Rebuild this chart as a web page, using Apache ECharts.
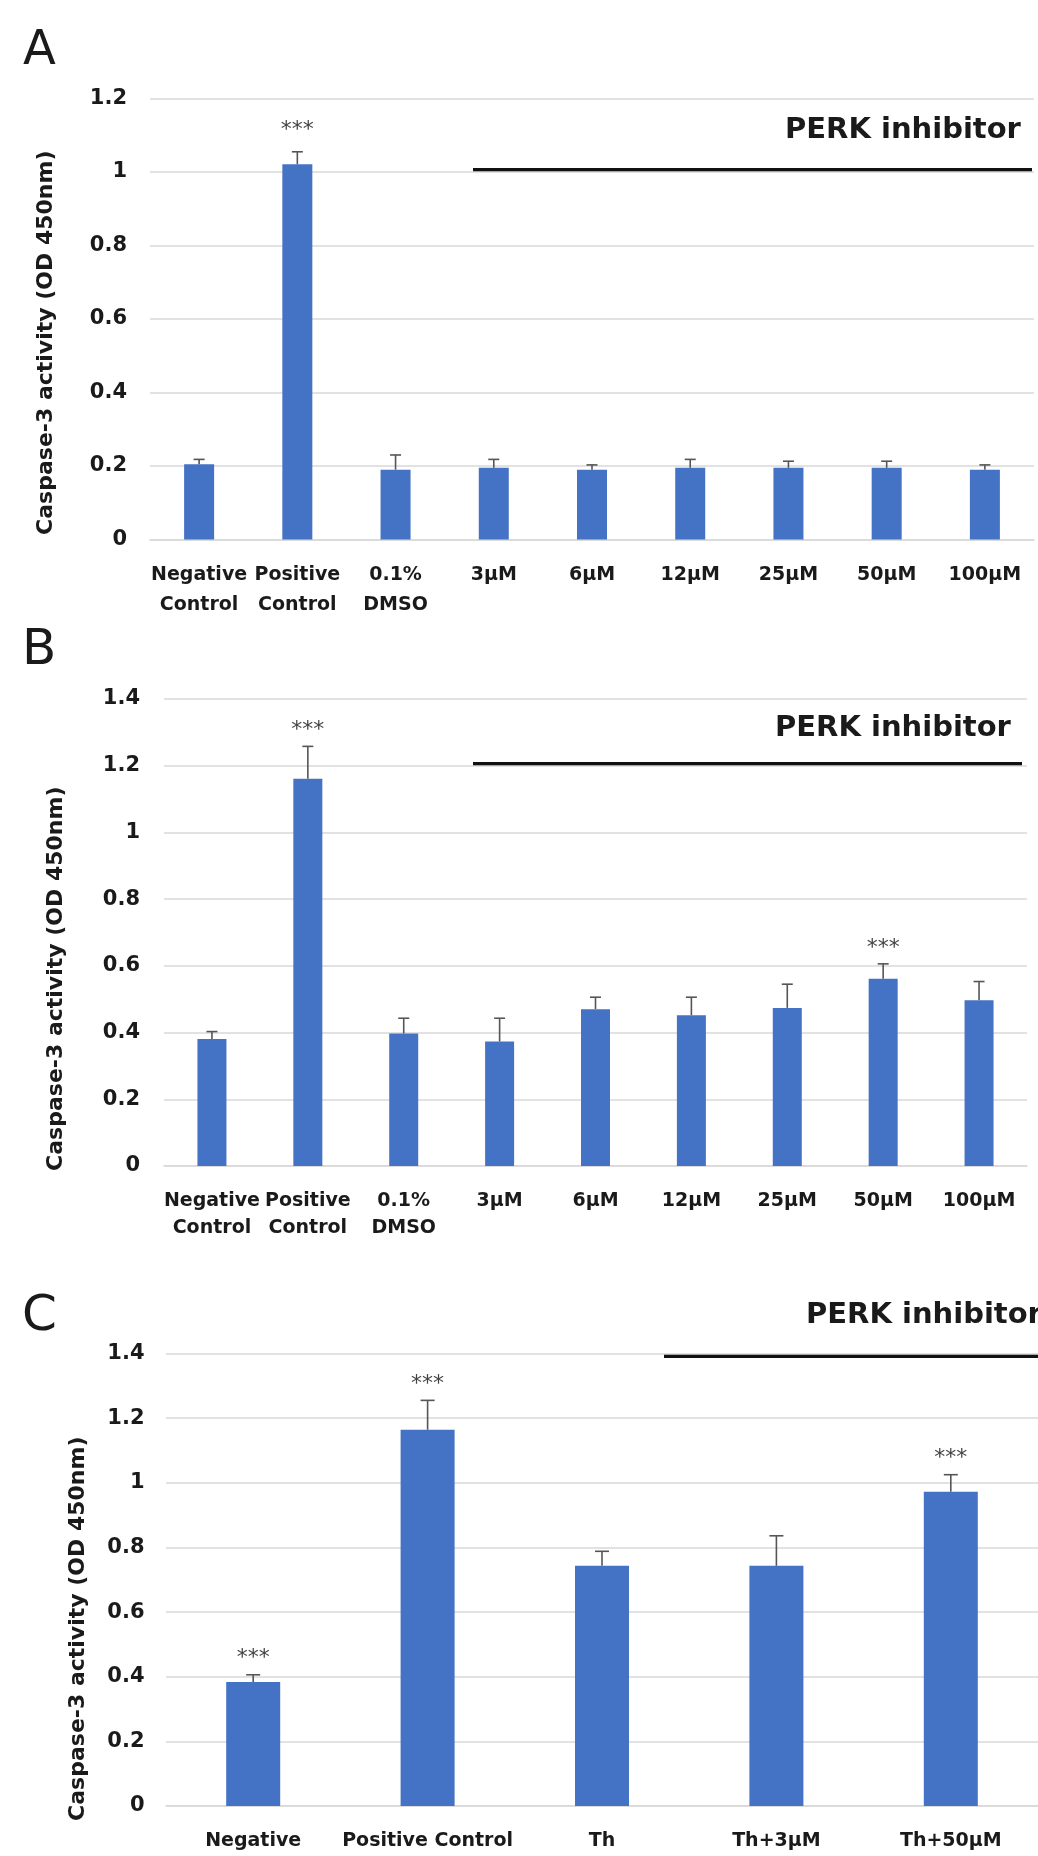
<!DOCTYPE html>
<html><head><meta charset="utf-8">
<script src="https://cdn.jsdelivr.net/npm/echarts@6/dist/echarts.min.js"></script>
<style>html,body{margin:0;padding:0;background:#fff}#c{width:1038px;height:1856px}</style>
</head><body><div id="c"></div>
<script>
// ---------- data ----------
const catsA = ['Negative\nControl', 'Positive\nControl', '0.1%\nDMSO', '3μM', '6μM', '12μM', '25μM', '50μM', '100μM'];
const valsA = [0.205, 1.021, 0.19, 0.195, 0.19, 0.195, 0.195, 0.195, 0.19];
const errA  = [0.013, 0.034, 0.04, 0.023, 0.013, 0.023, 0.018, 0.018, 0.013];
const sigA  = [0, 1, 0, 0, 0, 0, 0, 0, 0];

const catsB = ['Negative\nControl', 'Positive\nControl', '0.1%\nDMSO', '3μM', '6μM', '12μM', '25μM', '50μM', '100μM'];
const valsB = [0.381, 1.161, 0.397, 0.373, 0.470, 0.452, 0.474, 0.561, 0.497];
const errB  = [0.022, 0.097, 0.046, 0.070, 0.036, 0.054, 0.071, 0.045, 0.056];
const sigB  = [0, 1, 0, 0, 0, 0, 0, 1, 0];

const catsC = ['Negative', 'Positive Control', 'Th', 'Th+3μM', 'Th+50μM'];
const valsC = [0.384, 1.164, 0.743, 0.743, 0.972];
const errC  = [0.022, 0.091, 0.045, 0.093, 0.053];
const sigC  = [1, 1, 0, 0, 1];

const yTicksA = [0, 1.2, 0.2];   // min, max, interval
const yTicksB = [0, 1.4, 0.2];
const yTicksC = [0, 1.4, 0.2];

const yTitle = 'Caspase-3 activity (OD 450nm)';
const annot = 'PERK inhibitor';
const panelLetters = ['A', 'B', 'C'];
const sigMark = '***';

// ---------- styles ----------
const FONT = '"DejaVu Sans", "Open Sans", sans-serif';
const BAR = '#4472C4';
const GRID = '#d9d9d9';
const TXT = '#1a1a1a';

const grids = [
  {left: 150, top: 98.5, width: 884, height: 441, outerBoundsMode: 'none'},
  {left: 164, top: 699, width: 863, height: 467, outerBoundsMode: 'none'},
  {left: 166, top: 1353.5, width: 872, height: 452.5, outerBoundsMode: 'none'}
];

function xAxis(idx, cats, margin, lh) {
  return {
    type: 'category', gridIndex: idx, data: cats,
    axisLine: {lineStyle: {color: GRID, width: 1.5}},
    axisTick: {show: false},
    axisLabel: {interval: 0, margin: margin, color: TXT, fontFamily: FONT, fontWeight: 'bold',
      fontSize: 19, lineHeight: lh},
    splitLine: {show: false}
  };
}
function yAxis(idx, t, margin) {
  return {
    type: 'value', gridIndex: idx, min: t[0], max: t[1], interval: t[2],
    axisLine: {show: false}, axisTick: {show: false},
    axisLabel: {margin: margin, color: TXT, fontFamily: FONT, fontWeight: 'bold', fontSize: 21},
    splitLine: {lineStyle: {color: GRID, width: 1.5}}
  };
}
function barSeries(idx, vals, bw) {
  return {
    type: 'bar', xAxisIndex: idx, yAxisIndex: idx, data: vals, barWidth: bw,
    itemStyle: {color: BAR}, animation: false, silent: true
  };
}
function errSeries(idx, vals, errs, sigs, cw, sigGap) {
  return {
    type: 'custom', xAxisIndex: idx, yAxisIndex: idx, animation: false, silent: true,
    data: vals.map((v, i) => [i, v, errs[i], sigs[i]]),
    encode: {x: 0, y: 1},
    renderItem: function (params, api) {
      const i = api.value(0), v = api.value(1), e = api.value(2), s = api.value(3);
      const p0 = api.coord([i, v]);
      const p1 = api.coord([i, v + e]);
      const st = {stroke: '#555', lineWidth: 1.6};
      const children = [
        {type: 'line', shape: {x1: p0[0], y1: p0[1], x2: p1[0], y2: p1[1]}, style: st},
        {type: 'line', shape: {x1: p1[0] - cw, y1: p1[1], x2: p1[0] + cw, y2: p1[1]}, style: st}
      ];
      if (s) {
        children.push({type: 'text', style: {text: sigMark, x: p1[0], y: p1[1] - sigGap,
          align: 'center', verticalAlign: 'middle', fill: '#444', fontSize: 22, fontFamily: FONT}});
      }
      return {type: 'group', children: children};
    }
  };
}

function letter(txt, x, y, fs) {
  return {type: 'text', x: x, y: y, style: {text: txt, align: 'left', verticalAlign: 'middle',
    fill: TXT, fontSize: fs, fontFamily: FONT, fontWeight: 'normal'}};
}
function yTitleText(x, y) {
  return {type: 'text', x: x, y: y, rotation: Math.PI / 2, style: {text: yTitle, align: 'center',
    verticalAlign: 'middle', fill: TXT, fontSize: 22, fontFamily: FONT, fontWeight: 'bold'}};
}
function perkText(x, y) {
  return {type: 'text', x: x, y: y, style: {text: annot, align: 'left', verticalAlign: 'middle',
    fill: TXT, fontSize: 29, fontFamily: FONT, fontWeight: 'bold'}};
}
function perkLine(x1, x2, y) {
  return {type: 'line', shape: {x1: x1, y1: y, x2: x2, y2: y}, style: {stroke: '#111', lineWidth: 4}};
}

const chart = echarts.init(document.getElementById('c'), null, {renderer: 'canvas'});
chart.setOption({
  backgroundColor: '#fff',
  animation: false,
  grid: grids,
  xAxis: [xAxis(0, catsA, 21, 29.5), xAxis(1, catsB, 22, 27), xAxis(2, catsC, 21, 29)],
  yAxis: [yAxis(0, yTicksA, 23), yAxis(1, yTicksB, 24), yAxis(2, yTicksC, 21.5)],
  series: [
    barSeries(0, valsA, 30), errSeries(0, valsA, errA, sigA, 5.5, 22),
    barSeries(1, valsB, 29), errSeries(1, valsB, errB, sigB, 5.5, 16),
    barSeries(2, valsC, 54), errSeries(2, valsC, errC, sigC, 7, 16)
  ],
  graphic: [
    letter(panelLetters[0], 23, 51.5, 48),
    letter(panelLetters[1], 22, 651.5, 50),
    letter(panelLetters[2], 22, 1317, 50),
    yTitleText(46, 342.7),
    yTitleText(56.7, 978.7),
    yTitleText(78, 1628.7),
    perkText(785, 130),
    perkText(775, 728),
    perkText(806, 1315),
    perkLine(473, 1032, 170),
    perkLine(473, 1022, 764),
    perkLine(664, 1038, 1356)
  ]
});
</script></body></html>
